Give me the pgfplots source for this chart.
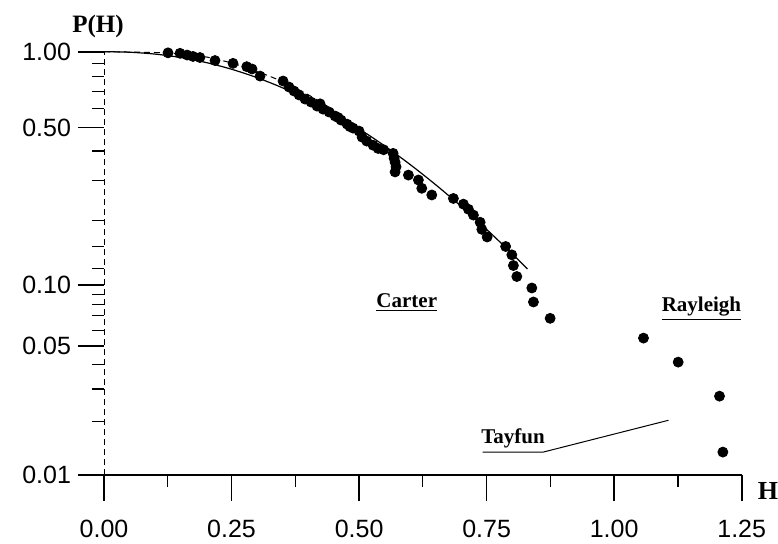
\documentclass[border=0pt]{standalone}
\usepackage{fontspec}
\setmainfont{Liberation Serif}
\newfontfamily\sansfont{Liberation Sans}
\usepackage{pgfplots}
\pgfplotsset{compat=1.18}

% exceedance probability of wave heights, measured points and model curves
\pgfplotstableread{
H       P
0.1255  0.990
0.1490  0.986
0.1630  0.971
0.1745  0.959
0.1880  0.950
0.2176  0.925
0.2529  0.902
0.2798  0.876
0.2902  0.858
0.3059  0.805
0.3510  0.770
0.3627  0.729
0.3725  0.703
0.3824  0.678
0.3941  0.653
0.4059  0.635
0.4176  0.612
0.4235  0.625
0.4294  0.595
0.4412  0.579
0.4529  0.558
0.4590  0.550
0.4647  0.537
0.4765  0.517
0.4820  0.505
0.4882  0.498
0.5000  0.484
0.5059  0.457
0.5150  0.440
0.5275  0.423
0.5373  0.410
0.5480  0.405
0.5667  0.391
0.5686  0.373
0.5706  0.359
0.5725  0.343
0.5706  0.326
0.5967  0.316
0.6163  0.301
0.6229  0.277
0.6425  0.259
0.6849  0.250
0.7045  0.236
0.7143  0.224
0.7241  0.211
0.7373  0.196
0.7406  0.182
0.7510  0.168
0.7873  0.152
0.7994  0.139
0.8025  0.124
0.8092  0.110
0.8386  0.097
0.8418  0.083
0.8745  0.069
1.0575  0.055
1.1255  0.0415
1.2065  0.0275
1.2131  0.0136
}\measured

\pgfplotstableread{
H     P
0.00  1.000
0.05  0.9954
0.10  0.9792
0.15  0.9503
0.20  0.9089
0.25  0.8561
0.30  0.7937
0.35  0.7237
0.40  0.6486
0.45  0.5715
0.50  0.4946
0.55  0.4204
0.60  0.3508
0.65  0.2873
0.70  0.2309
0.75  0.1820
0.80  0.1407
0.83  0.1194
}\solidcurve

\pgfplotstableread{
H     P
0.00  1.000
0.10  0.993
0.15  0.980
0.20  0.955
0.25  0.905
0.30  0.840
0.35  0.765
0.40  0.680
0.45  0.590
}\uppercurve

\begin{document}
\begin{tikzpicture}[x=1pt,y=1pt]
\useasboundingbox (0,0) rectangle (389,271.5);
\begin{axis}[
  at={(52pt,34pt)}, anchor=south west,
  scale only axis, width=318.85pt, height=211.65pt,
  xmin=0, xmax=1.25, ymin=0.01, ymax=1,
  y coord trafo/.code={\pgfmathparse{-ln(1-0.11*ln(#1))}},
  axis x line=bottom, axis y line=left,
  x axis line style={-, line width=0.9pt},
  y axis line style={-, line width=0.3pt, densely dashed},
  tick align=outside,
  major tick length=13pt, minor tick length=6pt,
  every major tick/.style={line width=0.8pt, black},
  every minor tick/.style={line width=0.6pt, black},
  xtick={0,0.25,0.5,0.75,1,1.25},
  xticklabels={0.00,0.25,0.50,0.75,1.00,1.25},
  minor xtick={0.125,0.375,0.625,0.875,1.125},
  xticklabel shift=6pt,
  ytick={0.01,0.05,0.1,0.5,1},
  yticklabels={0.01,0.05,0.10,0.50,1.00},
  minor ytick={0.02,0.03,0.04,0.06,0.07,0.08,0.09,0.12,0.15,0.2,0.3,0.4,0.6,0.7,0.8,0.9},
  tick label style={font=\sansfont\fontsize{12.5}{14}\selectfont, black},
  clip=false,
]
\addplot[black, line width=0.6pt, smooth] table[x=H, y=P] {\solidcurve};
\addplot[black, line width=0.5pt, densely dashed, smooth] table[x=H, y=P] {\uppercurve};
\addplot[only marks, mark=*, mark size=2.5pt, black] table[x=H, y=P] {\measured};
% leader line under the Tayfun label
\addplot[black, line width=0.5pt] coordinates {(0.742,0.0136) (0.861,0.0136) (1.1065,0.0204)};
\node[font=\bfseries\fontsize{10.5}{12}\selectfont] at (axis cs:0.5935,0.0818) {\underline{Carter}};
\node[font=\bfseries\fontsize{10.5}{12}\selectfont] at (axis cs:1.1712,0.0764) {\underline{Rayleigh}};
\node[font=\bfseries\fontsize{10.5}{12}\selectfont, anchor=base] at (axis cs:0.8017,0.0152) {Tayfun};
\end{axis}
\node[font=\bfseries\fontsize{12.5}{14}\selectfont] at (49,258.5) {P(H)};
\node[font=\bfseries\fontsize{13}{14}\selectfont] at (384,26) {H};
\end{tikzpicture}
\end{document}
